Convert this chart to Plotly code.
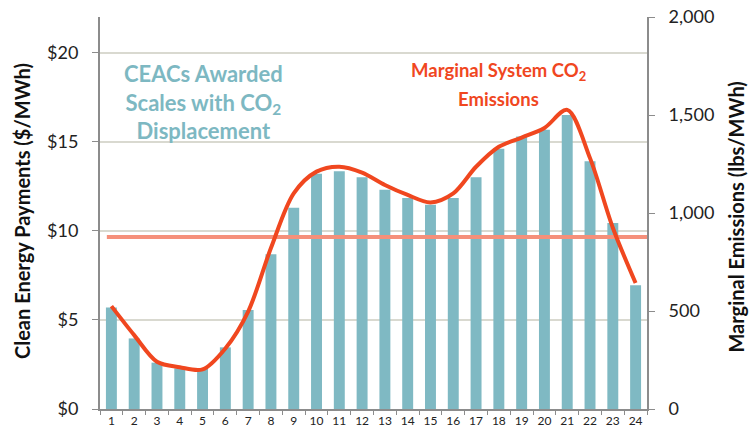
import plotly.graph_objects as go

hours = list(range(1, 25))
payments = [5.7, 3.96, 2.6, 2.28, 2.26, 3.46, 5.55, 8.68, 11.3, 13.2, 13.35, 13.0,
            12.3, 11.84, 11.47, 11.84, 13.0, 14.6, 15.3, 15.67, 16.5, 13.9, 10.44, 6.95]
emissions = [525, 377, 241, 213, 202, 309, 497, 821, 1100, 1211, 1236, 1206,
             1143, 1092, 1054, 1100, 1236, 1338, 1385, 1434, 1526, 1280, 925, 643]
threshold = 878
threshold_x = [0.8, 24.5]

FONT = "Lato"
BAR = "#7fb9c3"
LINE = "#f0471f"
SALMON = "#f5907a"

fig = go.Figure()
fig.add_trace(go.Bar(x=hours, y=payments, marker=dict(color=BAR, line=dict(width=0)),
                     width=0.48, yaxis="y"))
fig.add_trace(go.Scatter(x=threshold_x, y=[threshold, threshold], mode="lines",
                         line=dict(color=SALMON, width=4), yaxis="y2"))
fig.add_trace(go.Scatter(x=hours, y=emissions, mode="lines",
                         line=dict(color=LINE, width=4, shape="spline", smoothing=0.9),
                         yaxis="y2"))

fig.update_layout(
    width=751, height=430,
    margin=dict(l=100, r=104, t=17, b=21),
    plot_bgcolor="white", paper_bgcolor="white",
    showlegend=False,
    font=dict(family=FONT, color="#222"),
    xaxis=dict(range=[0.5, 24.5], tickvals=hours, ticktext=[str(h) for h in hours],
               tickfont=dict(size=12, color="#222"), showgrid=False, zeroline=False,
               showline=True, linecolor="#8c8c8c", linewidth=2, ticks="", automargin=False,
               minor=dict(tickvals=[h + 0.5 for h in range(0, 25)], ticks="outside",
                          ticklen=4, tickcolor="#8c8c8c", showgrid=False)),
    yaxis=dict(range=[0, 22], tickvals=[0, 5, 10, 15, 20],
               ticktext=["$0", "$5", "$10", "$15", "$20"],
               tickfont=dict(size=18, color="#222"), showgrid=True, gridcolor="#d9d9d0",
               gridwidth=1.5, zeroline=False, showline=True, linecolor="#8c8c8c",
               linewidth=2, ticks="outside", ticklen=6, tickcolor="#8c8c8c",
               ticklabelstandoff=10, automargin=False),
    yaxis2=dict(range=[0, 2000], overlaying="y", side="right", tickvals=[0, 500, 1000, 1500, 2000],
                tickformat=",", tickfont=dict(size=18, color="#222"), showgrid=False,
                zeroline=False, showline=True, linecolor="#8c8c8c", linewidth=2,
                ticks="outside", ticklen=6, tickcolor="#8c8c8c", ticklabelstandoff=10,
                automargin=False),
    annotations=[
        dict(x=-0.1426, y=0.505, xref="paper", yref="paper", xanchor="center", yanchor="middle",
             showarrow=False, textangle=-90,
             text="<b>Clean Energy Payments ($/MWh)</b>",
             font=dict(size=20, color="#111", family=FONT)),
        dict(x=1.162, y=0.49, xref="paper", yref="paper", xanchor="center", yanchor="middle",
             showarrow=False, textangle=-90,
             text="<b>Marginal Emissions (lbs/MWh)</b>",
             font=dict(size=20, color="#111", family=FONT)),
        dict(x=0.19, y=0.895, xref="paper", yref="paper", xanchor="center", yanchor="top",
             showarrow=False, align="center",
             text="<b>CEACs Awarded<br>Scales with CO<sub>2</sub><br>Displacement</b>",
             font=dict(size=22, color="#7db8c2", family=FONT)),
        dict(x=0.729, y=0.862, xref="paper", yref="paper", xanchor="center", yanchor="middle",
             showarrow=False, align="center",
             text="<b>Marginal System CO<sub>2</sub></b>",
             font=dict(size=18.5, color=LINE, family=FONT)),
        dict(x=0.729, y=0.79, xref="paper", yref="paper", xanchor="center", yanchor="middle",
             showarrow=False, align="center",
             text="<b>Emissions</b>",
             font=dict(size=18.5, color=LINE, family=FONT)),
    ],
)

fig.write_html("out.html", config={"displayModeBar": False},
               post_script="document.body.style.margin='0';document.body.style.padding='0';")
